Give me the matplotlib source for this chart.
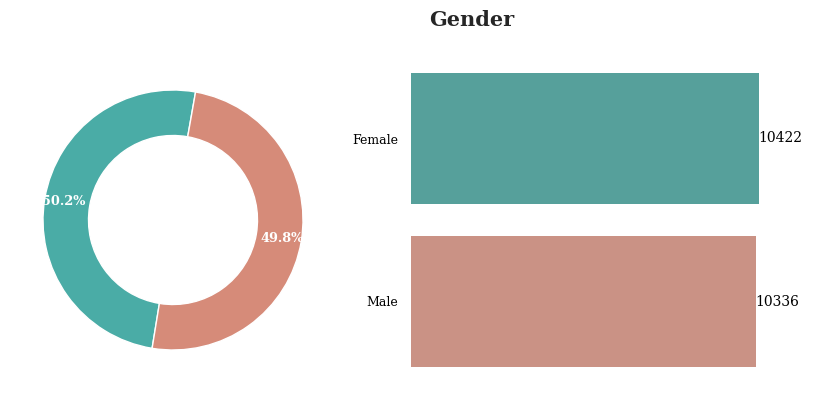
import matplotlib
matplotlib.use("Agg")
import matplotlib.pyplot as plt
import colorsys
import matplotlib.colors as mcolors

categories = ["Female", "Male"]
counts = [10422, 10336]
colors = ["#4AACA6", "#D68B79"]

def desat(c, prop=0.75):
    r, g, b = mcolors.to_rgb(c)
    h, l, s = colorsys.rgb_to_hls(r, g, b)
    return colorsys.hls_to_rgb(h, l, s * prop)

plt.rcParams['font.family'] = 'DejaVu Serif'
fig = plt.figure(figsize=(8.13, 3.93), dpi=100)
W, H = 813, 393

# Donut
ax1 = fig.add_axes([10.5 / W, 1 - 382.5 / H, 325 / W, 325 / H])
wedges, texts, autotexts = ax1.pie(
    counts, colors=colors, startangle=80, autopct='%1.1f%%', pctdistance=0.85,
    wedgeprops=dict(width=0.35, edgecolor='white', linewidth=1),
    textprops=dict(color='white', fontsize=9.3, fontweight='bold'))
ax1.set_xlim(-1.25, 1.25)
ax1.set_ylim(-1.25, 1.25)
ax1.set_aspect('equal')

# Bars
ax2 = fig.add_axes([411 / W, 1 - 383 / H, 365 / W, 326 / H])
bar_colors = [desat(c) for c in colors]
ax2.barh(categories, counts, color=bar_colors, height=0.8)
ax2.set_ylim(1.5, -0.5)
ax2.set_xlim(0, max(counts) * 1.05)
for s in ax2.spines.values():
    s.set_visible(False)
ax2.set_xticks([])
ax2.tick_params(axis='y', length=0, labelsize=9, pad=9)
for i, v in enumerate(counts):
    ax2.text(v, i, str(v), va='center', ha='left', fontsize=10)

fig.text(472 / W, 1 - 20 / H, "Gender", ha='center', va='center',
         fontsize=15, fontweight='bold', color='#262626')

fig.savefig("out.png", dpi=100)
